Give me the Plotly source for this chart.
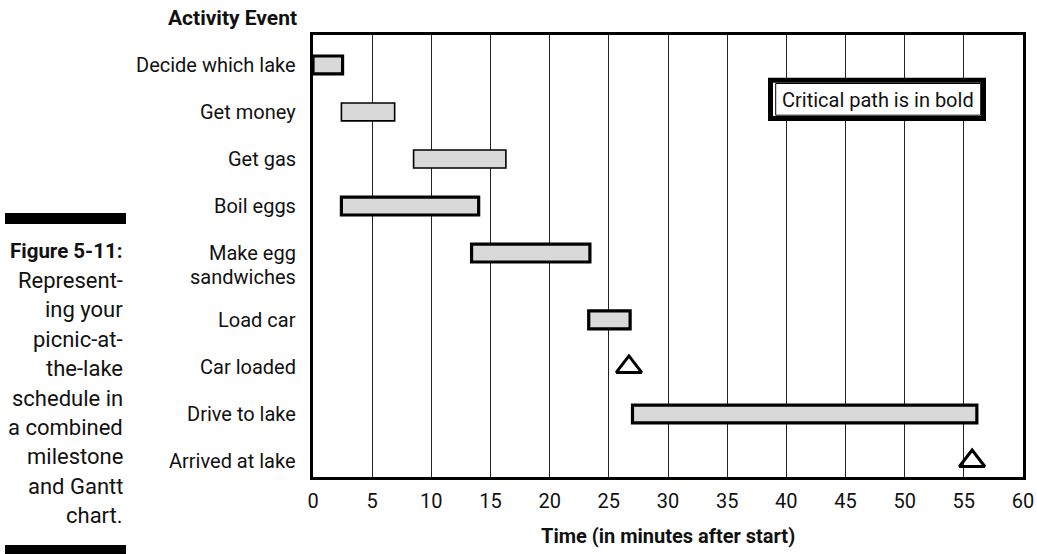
import plotly.graph_objects as go

# ---------------- data ----------------
labels = ["Decide which lake", "Get money", "Get gas", "Boil eggs",
          "Make egg\nsandwiches", "Load car", "Car loaded", "Drive to lake",
          "Arrived at lake"]
kinds = ["task", "task", "task", "task", "task", "task", "milestone", "task", "milestone"]
starts = [0, 2.4, 8.5, 2.4, 13.4, 23.3, 26.7, 27.0, 55.7]
ends = [2.5, 6.9, 16.3, 14.0, 23.4, 26.8, None, 56.1, None]
critical = [True, False, False, True, True, True, True, True, True]

x_ticks = [0, 5, 10, 15, 20, 25, 30, 35, 40, 45, 50, 55, 60]
x_title = "Time (in minutes after start)"
y_title = "Activity Event"
note_text = "Critical path is in bold"
caption_title = "Figure 5-11:"
caption_lines = ["Represent-", "ing your", "picnic-at-", "the-lake",
                 "schedule in", "a combined", "milestone", "and Gantt", "chart."]

# ---------------- layout helpers ----------------
W, H = 1037, 554
ML, MR, MT, MB = 313, 14, 35, 77
PW, PH = W - ML - MR, H - MT - MB
FONT = "Roboto, Liberation Sans, sans-serif"
FS = 20
LINE_H = 23.5
CAP_H = 29.4


def px(x):
    return (x - ML) / PW


def py(y):
    return (H - MB - y) / PH


# row positions: extra room after multi-line labels
rows = []
pos = 0.0
for lab in labels:
    rows.append(pos)
    pos += 1 + 0.42 * (len(lab.split("\n")) - 1)
y_top = -0.636
y_bottom = rows[-1] + 0.34

fig = go.Figure()

# task bars
for bold in (False, True):
    idx = [i for i, k in enumerate(kinds) if k == "task" and critical[i] == bold]
    fig.add_trace(go.Bar(
        y=[rows[i] for i in idx],
        x=[ends[i] - starts[i] for i in idx],
        base=[starts[i] for i in idx],
        orientation="h",
        width=0.38,
        marker=dict(color="#d9d9d9", line=dict(color="black", width=3.2 if bold else 1.6)),
        showlegend=False,
        hoverinfo="skip",
    ))

# milestones
mi = [i for i, k in enumerate(kinds) if k == "milestone"]
fig.add_trace(go.Scatter(
    x=[starts[i] for i in mi],
    y=[rows[i] for i in mi],
    mode="markers",
    marker=dict(symbol="triangle-up-open", size=22, color="black", line=dict(width=3, color="black")),
    showlegend=False,
    hoverinfo="skip",
))

annotations = []
# row labels
for lab, r in zip(labels, rows):
    for k, line in enumerate(lab.split("\n")):
        annotations.append(dict(
            x=0, xref="paper", y=r, yref="y", text=line, showarrow=False,
            xanchor="right", yanchor="middle", xshift=-15, yshift=-k * LINE_H,
            font=dict(family=FONT, size=FS, color="#111"),
        ))

# y title
annotations.append(dict(
    x=px(299), xref="paper", y=py(18), yref="paper", text="<b>%s</b>" % y_title,
    showarrow=False, xanchor="right", yanchor="middle",
    font=dict(family=FONT, size=21, color="#111"),
))

# caption
annotations.append(dict(
    x=px(125), xref="paper", y=py(251), yref="paper", text="<b>%s</b>" % caption_title,
    showarrow=False, xanchor="right", yanchor="middle",
    font=dict(family=FONT, size=20.5, color="#111"),
))
for k, line in enumerate(caption_lines):
    annotations.append(dict(
        x=px(125), xref="paper", y=py(251 + (k + 1) * CAP_H), yref="paper",
        text=line, showarrow=False, xanchor="right", yanchor="middle",
        font=dict(family=FONT, size=22, color="#111"),
    ))

# critical path note
annotations.append(dict(
    x=px(878), xref="paper", y=py(99.5), yref="paper", text=note_text,
    showarrow=False, xanchor="center", yanchor="middle",
    font=dict(family=FONT, size=FS, color="#111"),
))

# x axis title
annotations.append(dict(
    x=0.5, xref="paper", y=py(536), yref="paper", text="<b>%s</b>" % x_title,
    showarrow=False, xanchor="center", yanchor="middle",
    font=dict(family=FONT, size=FS, color="#111"),
))

shapes = [
    dict(type="rect", xref="paper", yref="paper",
         x0=px(770.5), x1=px(983.5), y0=py(80.2), y1=py(118.5),
         line=dict(color="black", width=5), fillcolor="white", layer="above"),
    dict(type="rect", xref="paper", yref="paper",
         x0=px(775.7), x1=px(980.7), y0=py(83.5), y1=py(115.2),
         line=dict(color="black", width=1), fillcolor="white", layer="above"),
    dict(type="rect", xref="paper", yref="paper",
         x0=px(5), x1=px(126), y0=py(213), y1=py(224),
         line=dict(width=0), fillcolor="black"),
    dict(type="rect", xref="paper", yref="paper",
         x0=px(5), x1=px(126), y0=py(545), y1=py(560),
         line=dict(width=0), fillcolor="black"),
]

fig.update_layout(
    width=W, height=H,
    margin=dict(l=ML, r=MR, t=MT, b=MB, autoexpand=False),
    paper_bgcolor="white", plot_bgcolor="white",
    barmode="overlay",
    annotations=annotations,
    shapes=shapes,
    font=dict(family=FONT, size=FS, color="#111"),
    xaxis=dict(
        range=[0, 60], tickvals=x_ticks, ticktext=[str(t) for t in x_ticks],
        showgrid=True, gridcolor="#222", gridwidth=1.4,
        showline=True, linecolor="black", linewidth=3, mirror=True,
        ticks="", ticklabelstandoff=4, zeroline=False, automargin=False,
        tickfont=dict(family=FONT, size=FS, color="#111"),
    ),
    yaxis=dict(
        range=[y_bottom, y_top], showticklabels=False, showgrid=False, zeroline=False,
        showline=True, linecolor="black", linewidth=3, mirror=True, ticks="",
        automargin=False,
    ),
)

fig.write_html("out.html", config={"displayModeBar": False},
               post_script="document.body.style.margin='0';document.body.style.overflow='hidden';")
